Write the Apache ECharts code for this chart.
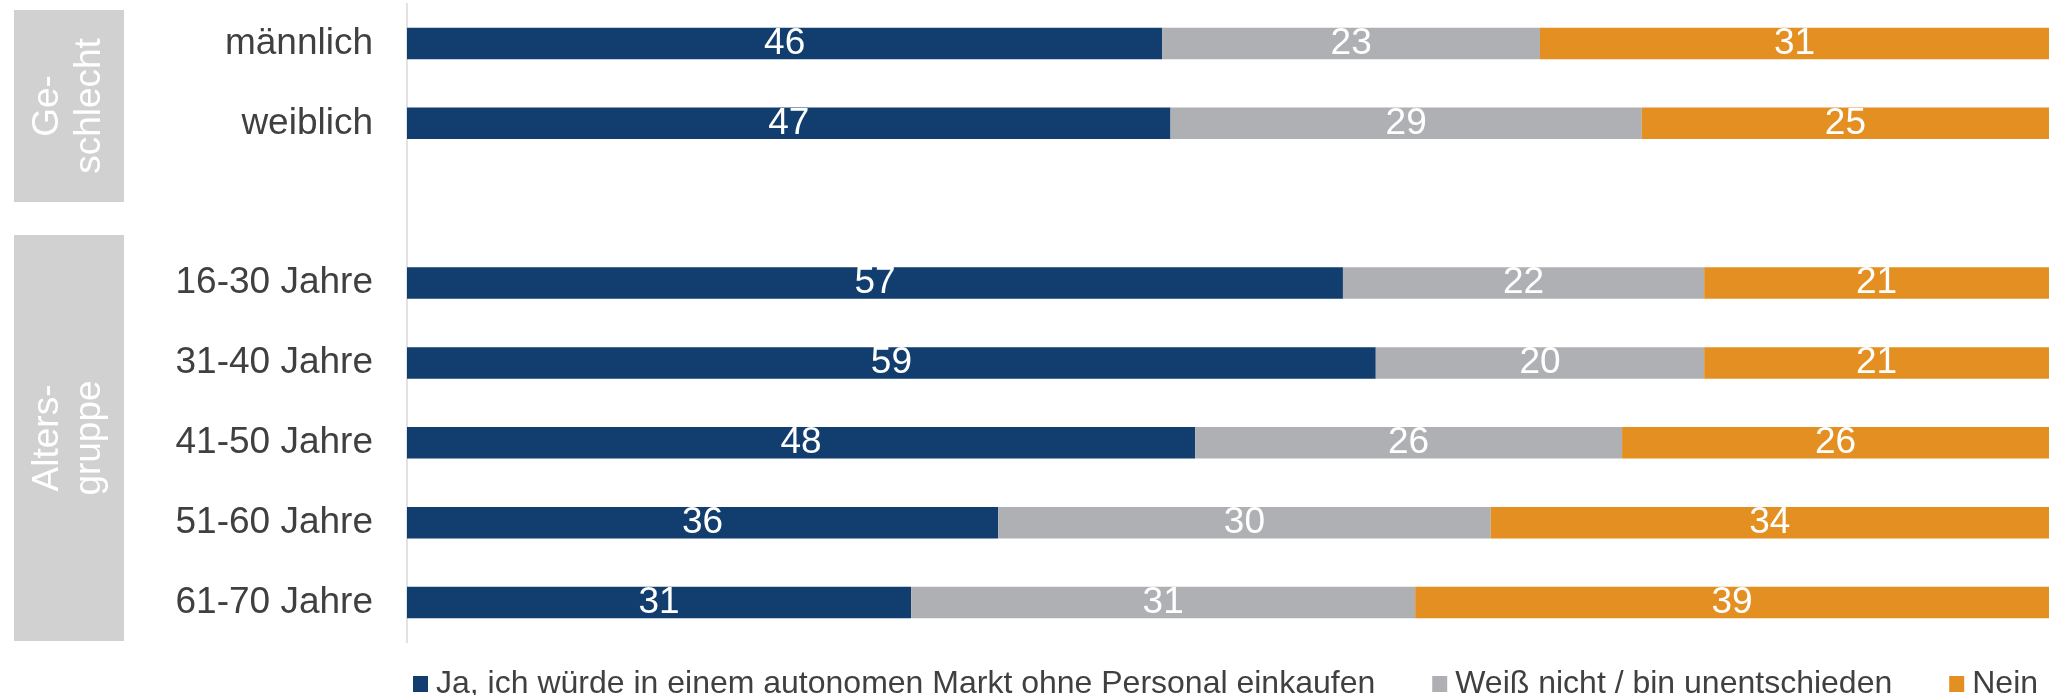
<!DOCTYPE html>
<html>
<head>
<meta charset="utf-8">
<script src="https://cdn.jsdelivr.net/npm/echarts@6/dist/echarts.min.js"></script>
<style>
html,body{margin:0;padding:0;background:#fff;}
#chart{width:2049px;height:695px;}
</style>
</head>
<body>
<div id="chart"></div>
<script>
var categories = ['männlich', 'weiblich', '', '16-30 Jahre', '31-40 Jahre', '41-50 Jahre', '51-60 Jahre', '61-70 Jahre'];
var seriesNames = ['Ja, ich würde in einem autonomen Markt ohne Personal einkaufen', 'Weiß nicht / bin unentschieden', 'Nein'];
var ja = [46, 46.5, null, 57, 59, 48, 36, 30.7];
var weissNicht = [23, 28.7, null, 22, 20, 26, 30, 30.7];
var nein = [31, 24.8, null, 21, 21, 26, 34, 38.6];
var groupLabels = ['Ge-\nschlecht', 'Alters-\ngruppe'];

var FONT = "'Liberation Sans', Arial, sans-serif";
var colors = ['#113e6f', '#afb0b3', '#e38f21'];
var chart = echarts.init(document.getElementById('chart'), null, {renderer: 'canvas'});

function barSeries(name, data, color) {
  return {
    name: name,
    type: 'bar',
    stack: 'total',
    barWidth: 31.6,
    data: data,
    itemStyle: {color: color},
    label: {
      show: true,
      position: 'inside',
      color: '#ffffff',
      fontFamily: FONT,
      fontSize: 37,
      formatter: function (p) { return p.value == null ? '' : String(Math.round(p.value)); }
    },
    emphasis: {disabled: true}
  };
}

chart.setOption({
  animation: false,
  backgroundColor: '#ffffff',
  grid: {left: 407, right: -10, top: 3.5, bottom: 52.5, containLabel: false},
  xAxis: {type: 'value', min: 0, max: 100, show: false},
  yAxis: {
    type: 'category',
    inverse: true,
    data: categories,
    axisLine: {show: true, lineStyle: {color: '#d9d9d9', width: 1.5}},
    axisTick: {show: false},
    splitLine: {show: false},
    axisLabel: {color: '#404040', fontFamily: FONT, fontSize: 37, margin: 34}
  },
  legend: {
    left: 408,
    top: 663,
    icon: 'rect',
    itemWidth: 15,
    itemHeight: 16,
    itemGap: 57,
    data: seriesNames,
    textStyle: {color: '#404040', fontFamily: FONT, fontSize: 32, lineHeight: 32, padding: [0, 0, 0, 3]}
  },
  graphic: [
    {type: 'rect', shape: {x: 14, y: 10, width: 110, height: 192}, style: {fill: '#d1d1d1'}, z: 0},
    {type: 'rect', shape: {x: 14, y: 235, width: 110, height: 406}, style: {fill: '#d1d1d1'}, z: 0},
    {type: 'text', x: 69, y: 106, rotation: Math.PI / 2, z: 1,
     style: {text: groupLabels[0], fill: '#ffffff', font: '37px ' + FONT, textAlign: 'center', textVerticalAlign: 'middle', lineHeight: 42}},
    {type: 'text', x: 69, y: 438, rotation: Math.PI / 2, z: 1,
     style: {text: groupLabels[1], fill: '#ffffff', font: '37px ' + FONT, textAlign: 'center', textVerticalAlign: 'middle', lineHeight: 42}}
  ],
  series: [
    barSeries(seriesNames[0], ja, colors[0]),
    barSeries(seriesNames[1], weissNicht, colors[1]),
    barSeries(seriesNames[2], nein, colors[2])
  ]
});
</script>
</body>
</html>
